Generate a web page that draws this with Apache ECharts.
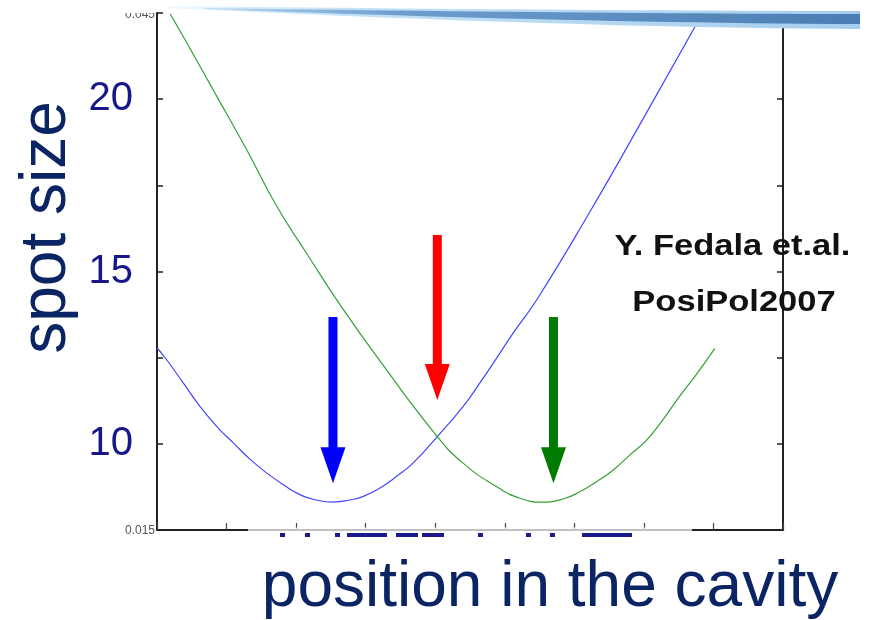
<!DOCTYPE html>
<html>
<head>
<meta charset="utf-8">
<script src="https://cdn.jsdelivr.net/npm/echarts@6/dist/echarts.min.js"></script>
<style>
  html, body { margin: 0; padding: 0; background: #fff; }
  #chart { width: 872px; height: 620px; }
</style>
</head>
<body>
<div id="chart"></div>
<script>
// Beam spot size along the cavity for the two focusing configurations
const blueBeam = [
  [0.00, 12.78], [0.12, 12.49], [0.38, 11.76], [0.62, 11.08], [0.86, 10.50],
  [1.10, 10.02], [1.34, 9.55], [1.58, 9.15], [1.82, 8.81], [2.06, 8.52],
  [2.29, 8.37], [2.53, 8.31], [2.77, 8.37], [2.96, 8.47], [3.20, 8.71],
  [3.44, 9.05], [3.68, 9.44], [4.03, 10.21], [4.40, 11.08], [4.64, 11.76],
  [4.88, 12.48], [5.12, 13.21], [5.46, 14.18], [6.22, 16.72], [6.98, 19.40],
  [7.84, 22.48]
];
const greenBeam = [
  [0.19, 22.47], [0.43, 21.63], [0.86, 20.08], [1.29, 18.53], [1.72, 16.90],
  [2.15, 15.53], [2.65, 13.98], [3.20, 12.42], [4.03, 10.21], [4.40, 9.44],
  [4.88, 8.76], [5.22, 8.42], [5.55, 8.31], [5.84, 8.40], [6.08, 8.61],
  [6.32, 8.90], [6.56, 9.24], [6.80, 9.68], [7.04, 10.11], [7.27, 10.69],
  [7.51, 11.37], [7.75, 12.00], [8.02, 12.77]
];
// Arrows: [position, top of shaft, tip]
const arrowMarks = [
  [2.53, 13.68, 8.86],
  [4.03, 16.06, 11.27],
  [5.70, 13.68, 8.86]
];
const arrowColors = ['#0000ff', '#ff0000', '#007a00'];

const xRange = [0, 9];
const xStep = 1;
const yRange = [7.5, 22.5];
const yStep = 2.5;
const yTickLabels = [10, 15, 20];
const yLowerStamp = '0.015';
const yUpperStamp = '0.045';

const titleY = 'spot size';
const titleX = 'position in the cavity';
const creditLines = ['Y. Fedala et.al.', 'PosiPol2007'];

const navy = '#0b2463';
const labelBlue = '#17178a';
const sansFont = '"Liberation Sans", Arial, sans-serif';

const chart = echarts.init(document.getElementById('chart'), null, { renderer: 'canvas' });

const axisLineStyle = { color: '#222', width: 2 };

const yAxisCommon = {
  type: 'value',
  min: yRange[0],
  max: yRange[1],
  interval: yStep,
  splitLine: { show: false },
  axisLine: { show: true, lineStyle: axisLineStyle },
  axisTick: { show: true, inside: true, length: 6, lineStyle: { color: '#222', width: 1.5 } }
};

// Arrow drawn in data space: shaft from top value down to the tip value
function renderArrow(params, api) {
  const x = api.value(0);
  const top = api.coord([x, api.value(1)]);
  const tip = api.coord([x, api.value(2)]);
  const cx = top[0];
  const shaftHalf = 4.5;
  const headHalf = 12.5;
  const headLen = 36;
  const base = tip[1] - headLen;
  return {
    type: 'polygon',
    shape: {
      points: [
        [cx - shaftHalf, top[1]], [cx + shaftHalf, top[1]], [cx + shaftHalf, base],
        [cx + headHalf, base], [cx, tip[1]], [cx - headHalf, base], [cx - shaftHalf, base]
      ]
    },
    style: { fill: api.visual('color') }
  };
}

// Tapered band for the banner: upper and lower edges as eased curves
function bandPoints(x0, x1, top0, top1, bot0, bot1, bend) {
  const upper = [], lower = [];
  const n = 24;
  for (let i = 0; i <= n; i++) {
    const t = i / n;
    const x = x0 + (x1 - x0) * t;
    const k = 1 - Math.pow(1 - t, bend);
    upper.push([x, top0 + (top1 - top0) * k]);
    lower.push([x, bot0 + (bot1 - bot0) * k]);
  }
  return upper.concat(lower.reverse());
}

const option = {
  backgroundColor: '#ffffff',
  animation: false,
  grid: { left: 157, top: 13, width: 626, height: 517, containLabel: false },
  xAxis: {
    type: 'value',
    min: xRange[0],
    max: xRange[1],
    interval: xStep,
    axisLabel: { show: false },
    splitLine: { show: false },
    axisLine: { show: true, onZero: false, lineStyle: axisLineStyle },
    axisTick: { show: true, inside: true, length: 7, lineStyle: { color: '#444', width: 1.2 } }
  },
  yAxis: [
    Object.assign({}, yAxisCommon, {
      position: 'left',
      axisLabel: {
        show: true,
        margin: 24,
        fontSize: 40,
        fontFamily: sansFont,
        color: labelBlue,
        formatter: v => (yTickLabels.indexOf(v) >= 0 ? String(v) : '')
      }
    }),
    Object.assign({}, yAxisCommon, {
      position: 'right',
      axisLabel: { show: false }
    })
  ],
  series: [
    {
      type: 'line',
      name: 'blue',
      data: blueBeam,
      showSymbol: false,
      smooth: 0.5,
      lineStyle: { color: '#4444ff', width: 1.2 },
      z: 3
    },
    {
      type: 'line',
      name: 'green',
      data: greenBeam,
      showSymbol: false,
      smooth: 0.5,
      lineStyle: { color: '#35a035', width: 1.2 },
      z: 3
    },
    {
      type: 'custom',
      name: 'arrows',
      renderItem: renderArrow,
      data: arrowMarks.map((a, i) => ({ value: a, itemStyle: { color: arrowColors[i] } })),
      z: 4
    }
  ],
  graphic: [
    // banner swoosh at the top
    {
      type: 'polygon', z: 10,
      shape: { points: bandPoints(167, 860, 6, 11, 8, 29, 1.6) },
      style: {
        fill: { type: 'linear', x: 0, y: 0, x2: 1, y2: 0,
          colorStops: [
            { offset: 0, color: 'rgba(190,225,248,0.2)' },
            { offset: 0.25, color: '#c4e2f7' },
            { offset: 1, color: '#a6cdee' }
          ] }
      }
    },
    {
      type: 'polygon', z: 11,
      shape: { points: bandPoints(205, 860, 8, 14, 9, 24, 1.6) },
      style: {
        fill: { type: 'linear', x: 0, y: 0, x2: 1, y2: 0,
          colorStops: [
            { offset: 0, color: 'rgba(120,170,215,0.3)' },
            { offset: 0.3, color: '#6d9dcd' },
            { offset: 1, color: '#4a7db3' }
          ] }
      }
    },
    // faded middle of the lower axis
    {
      type: 'rect', z: 12,
      shape: { x: 248, y: 527.5, width: 444, height: 5 },
      style: { fill: 'rgba(255,255,255,0.72)' }
    },
    // small stamps of the original scale
    {
      type: 'text', z: 12, x: 155, y: 531,
      style: { text: yLowerStamp, textAlign: 'right', textVerticalAlign: 'middle',
        fontSize: 12, fontFamily: sansFont, fill: '#555' }
    },
    {
      type: 'text', z: 12, x: 155, y: 15,
      style: { text: yUpperStamp, textAlign: 'right', textVerticalAlign: 'middle',
        fontSize: 12, fontFamily: sansFont, fill: '#555' }
    },
    {
      type: 'rect', z: 13,
      shape: { x: 100, y: 0, width: 55, height: 13 },
      style: { fill: '#ffffff' }
    },
    // axis titles
    {
      type: 'text', z: 12, x: 47, y: 227.5, rotation: Math.PI / 2,
      style: { text: titleY, textAlign: 'center', textVerticalAlign: 'middle',
        fontSize: 64, fontFamily: sansFont, fill: navy }
    },
    {
      type: 'text', z: 12, x: 550, y: 588,
      style: { text: titleX, textAlign: 'center', textVerticalAlign: 'middle',
        fontSize: 64, fontFamily: sansFont, fill: navy }
    },
    // credit
    {
      type: 'text', z: 12, x: 732.5, y: 246.5, scaleX: 1.15,
      style: { text: creditLines[0], textAlign: 'center', textVerticalAlign: 'middle',
        fontSize: 30, fontWeight: 'bold', fontFamily: sansFont, fill: '#111' }
    },
    {
      type: 'text', z: 12, x: 734, y: 302.5, scaleX: 1.15,
      style: { text: creditLines[1], textAlign: 'center', textVerticalAlign: 'middle',
        fontSize: 30, fontWeight: 'bold', fontFamily: sansFont, fill: '#111' }
    }
  ].concat(
    // tops of a caption hidden below the lower axis
    [[280, 5], [305, 5], [335, 5], [347, 40], [396, 22], [422, 22], [478, 5], [526, 5], [550, 5], [582, 50]]
      .map(r => ({ type: 'rect', z: 12, shape: { x: r[0], y: 533, width: r[1], height: 4 },
        style: { fill: '#1a1a8c' } }))
  )
};

chart.setOption(option);
</script>
</body>
</html>
